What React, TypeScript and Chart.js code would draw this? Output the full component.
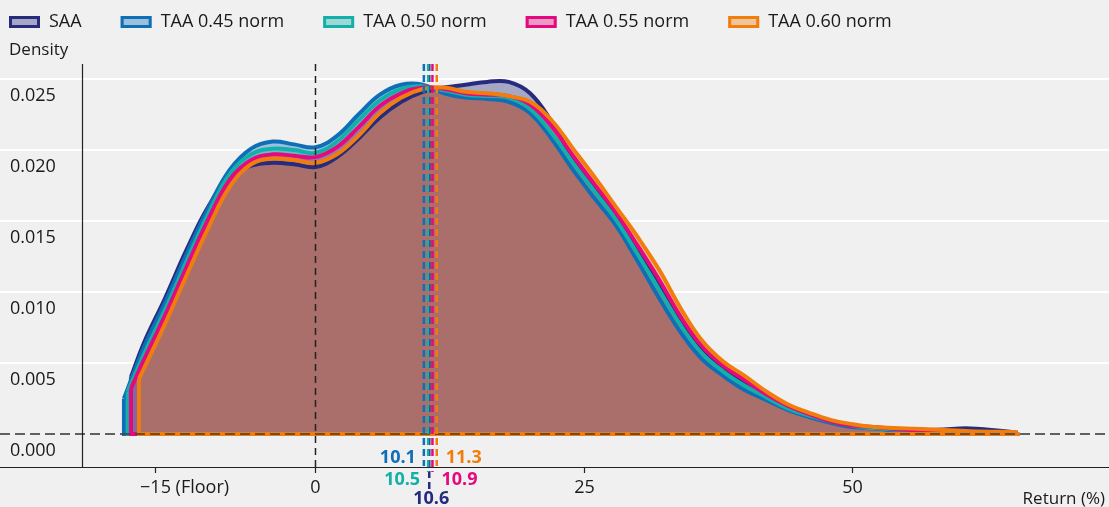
import React, { useEffect, useRef } from "react";
import { Chart, registerables } from "chart.js";
Chart.register(...registerables);

// ---------- data ----------
const SERIES_NAMES = ["SAA", "TAA 0.45 norm", "TAA 0.50 norm", "TAA 0.55 norm", "TAA 0.60 norm"];
const SERIES_COLORS = ["#262b7e", "#0e6fb8", "#12b0a9", "#e5097f", "#f07d0c"];
const MEANS = [10.6, 10.1, 10.5, 10.9, 11.3];
const START_X = [-17.2, -17.85, -17.5, -17.2, -16.45];
const START_Y = [0.004, 0.0025, 0.003, 0.0032, 0.0039];
const GRID_X = [-16, -14, -12, -10, -8, -6, -4, -2, 0, 2, 4, 6, 8, 10, 12, 14, 16, 18, 20, 22, 24, 26, 28, 30, 32, 34, 36, 38, 40, 42, 44, 46, 48, 50, 52, 55, 58, 61, 65.4];
const SAA = [0.0064, 0.0096, 0.013, 0.016, 0.0181, 0.0189, 0.0191, 0.019, 0.0188, 0.0195, 0.0208, 0.0223, 0.0234, 0.0241, 0.0244, 0.0246, 0.0248, 0.0248, 0.024, 0.022, 0.0194, 0.0173, 0.0153, 0.013, 0.0105, 0.008, 0.0059, 0.0046, 0.0036, 0.0027, 0.0019, 0.0013, 0.0009, 0.0006, 0.0004, 0.0003, 0.0003, 0.0004, 0.0001];
const TAA_045 = [0.0061, 0.0093, 0.0127, 0.0159, 0.0186, 0.0201, 0.0206, 0.0204, 0.0202, 0.021, 0.0225, 0.0239, 0.0246, 0.0246, 0.024, 0.0237, 0.0236, 0.0234, 0.0226, 0.0208, 0.0186, 0.0166, 0.0147, 0.0122, 0.0096, 0.0072, 0.0053, 0.0041, 0.0031, 0.0024, 0.0017, 0.0012, 0.0008, 0.0005, 0.0004, 0.0002, 0.00015, 0.0001, 0.0001];
const TAA_050 = [0.0056, 0.0088, 0.0122, 0.0155, 0.0183, 0.0197, 0.0201, 0.02, 0.0198, 0.0206, 0.0221, 0.0235, 0.0243, 0.0245, 0.0242, 0.0239, 0.0238, 0.0237, 0.0229, 0.0212, 0.0191, 0.0171, 0.0151, 0.0127, 0.0102, 0.0077, 0.0057, 0.0044, 0.0034, 0.0026, 0.0018, 0.0013, 0.0009, 0.0006, 0.0004, 0.0003, 0.0002, 0.00015, 0.0001];
const TAA_055 = [0.0052, 0.0084, 0.0118, 0.0151, 0.0179, 0.0193, 0.0197, 0.0196, 0.0195, 0.0202, 0.0216, 0.0231, 0.024, 0.0244, 0.0243, 0.024, 0.0239, 0.0238, 0.0232, 0.0217, 0.0196, 0.0176, 0.0156, 0.0133, 0.0109, 0.0083, 0.0062, 0.0048, 0.0038, 0.0028, 0.002, 0.0014, 0.0009, 0.0006, 0.0005, 0.0003, 0.0002, 0.00015, 0.0001];
const TAA_060 = [0.0046, 0.0078, 0.0112, 0.0145, 0.0174, 0.019, 0.0194, 0.0193, 0.0191, 0.0197, 0.021, 0.0226, 0.0237, 0.0243, 0.0244, 0.0241, 0.024, 0.0238, 0.0234, 0.0221, 0.0201, 0.0181, 0.016, 0.0139, 0.0116, 0.0089, 0.0066, 0.0051, 0.0041, 0.003, 0.0021, 0.0015, 0.001, 0.0007, 0.0005, 0.0004, 0.0003, 0.0002, 0.00015];
const SERIES = [SAA, TAA_045, TAA_050, TAA_055, TAA_060];

const X_TICKS = [-15, 0, 25, 50];
const X_TICK_LABELS = ["\u221215 (Floor)", "0", "25", "50"];
const Y_TICKS = [0, 0.005, 0.01, 0.015, 0.02, 0.025];
const X_MIN = -21.76;
const X_MAX = 73.95;
const Y_MIN = -0.00232;
const Y_MAX = 0.02606;

const FONT = "'Open Sans', 'Noto Sans', sans-serif";
const TEXT = "#1a1a1a";
const FILL_ALPHA = 0.37;

function hexA(hex: string, a: number) {
  const n = parseInt(hex.slice(1), 16);
  return `rgba(${(n >> 16) & 255},${(n >> 8) & 255},${n & 255},${a})`;
}

const overlay = {
  id: "overlay",
  beforeDraw(chart: any) {
    const { ctx, width } = chart;
    const y = chart.scales.y;
    ctx.save();
    ctx.strokeStyle = "#ffffff";
    ctx.lineWidth = 2;
    Y_TICKS.forEach((v) => {
      if (v === 0) return;
      const py = Math.round(y.getPixelForValue(v));
      ctx.beginPath();
      ctx.moveTo(0, py);
      ctx.lineTo(width, py);
      ctx.stroke();
    });
    ctx.restore();
  },
  afterDatasetsDraw(chart: any) {
    const { ctx, width, chartArea } = chart;
    const x = chart.scales.x;
    const y = chart.scales.y;
    const y0 = y.getPixelForValue(0);
    const x0 = x.getPixelForValue(0);
    ctx.save();
    // horizontal dashed zero line
    ctx.setLineDash([10, 5]);
    ctx.strokeStyle = "rgba(70,70,70,0.85)";
    ctx.lineWidth = 2;
    ctx.beginPath();
    ctx.moveTo(0, y0);
    ctx.lineTo(width, y0);
    ctx.stroke();
    // vertical dashed zero line
    ctx.setLineDash([7, 5]);
    ctx.strokeStyle = "#222";
    ctx.lineWidth = 1.5;
    ctx.beginPath();
    ctx.moveTo(x0, chartArea.top);
    ctx.lineTo(x0, chartArea.bottom);
    ctx.stroke();
    ctx.setLineDash([]);
    // axes lines
    ctx.strokeStyle = "#222";
    ctx.lineWidth = 1.2;
    ctx.beginPath();
    ctx.moveTo(0, chartArea.bottom + 0.5);
    ctx.lineTo(width, chartArea.bottom + 0.5);
    ctx.moveTo(chartArea.left + 0.5, chartArea.top);
    ctx.lineTo(chartArea.left + 0.5, chartArea.bottom);
    ctx.stroke();
    // x ticks & labels
    ctx.font = `18px ${FONT}`;
    ctx.fillStyle = TEXT;
    ctx.textBaseline = "middle";
    ctx.textAlign = "left";
    X_TICKS.forEach((v, i) => {
      const px = Math.round(x.getPixelForValue(v)) + 0.5;
      ctx.beginPath();
      ctx.moveTo(px, chartArea.bottom);
      ctx.lineTo(px, chartArea.bottom + 6);
      ctx.stroke();
      const label = X_TICK_LABELS[i];
      const num = label.split(" ")[0];
      const w = ctx.measureText(num).width;
      ctx.fillText(label, px - w / 2, chartArea.bottom + 21);
    });
    // mean lines
    const rowEnd = [466, 472, 490];
    const rowY = [457, 479, 498];
    const rowOf = [2, 0, 1, 1, 0];
    const side = ["center", "left", "left", "right", "right"];
    MEANS.forEach((m, i) => {
      const px = x.getPixelForValue(m);
      ctx.strokeStyle = SERIES_COLORS[i];
      ctx.lineWidth = 2.5;
      ctx.setLineDash([7, 4]);
      ctx.beginPath();
      ctx.moveTo(px, chartArea.top);
      ctx.lineTo(px, rowEnd[rowOf[i]]);
      ctx.stroke();
    });
    ctx.setLineDash([]);
    ctx.font = `bold 18px ${FONT}`;
    MEANS.forEach((m, i) => {
      const px = x.getPixelForValue(m);
      ctx.fillStyle = SERIES_COLORS[i];
      const s = side[i];
      const ty = rowY[rowOf[i]] + 1;
      if (s === "left") {
        ctx.textAlign = "right";
        ctx.fillText(m.toFixed(1), px - 8, ty);
      } else if (s === "right") {
        ctx.textAlign = "left";
        ctx.fillText(m.toFixed(1), px + 9, ty);
      } else {
        ctx.textAlign = "center";
        ctx.fillText(m.toFixed(1), px + 2, ty);
      }
    });
    ctx.restore();
  },
  afterDraw(chart: any) {
    const { ctx } = chart;
    ctx.save();
    // legend
    ctx.font = `18px ${FONT}`;
    ctx.textBaseline = "middle";
    ctx.textAlign = "left";
    let bx = 9;
    SERIES_NAMES.forEach((name, i) => {
      ctx.fillStyle = hexA(SERIES_COLORS[i], FILL_ALPHA);
      ctx.fillRect(bx, 16, 31, 12);
      ctx.strokeStyle = SERIES_COLORS[i];
      ctx.lineWidth = 3;
      ctx.strokeRect(bx + 1.5, 16 + 1.5, 28, 9);
      ctx.fillStyle = TEXT;
      ctx.fillText(name, bx + 40, 22);
      bx += 40 + ctx.measureText(name).width + 39;
    });
    // axis titles
    ctx.font = `17px ${FONT}`;
    ctx.fillText("Density", 9, 50);
    ctx.textAlign = "right";
    ctx.fillText("Return (%)", 1105, 499);
    ctx.restore();
  },
};

export default function App() {
  const ref = useRef<HTMLCanvasElement>(null);
  useEffect(() => {
    const canvas = ref.current;
    if (!canvas) return;
    const datasets: any[] = [];
    SERIES_NAMES.forEach((name, i) => {
      const pts = [{ x: START_X[i], y: START_Y[i] }, ...GRID_X.map((gx, j) => ({ x: gx, y: SERIES[i][j] }))];
      const last = pts[pts.length - 1];
      const color = SERIES_COLORS[i];
      datasets.push({
        label: name,
        data: pts,
        borderColor: color,
        backgroundColor: hexA(color, FILL_ALPHA),
        fill: "origin",
        tension: 0.4,
        borderWidth: 4,
        pointRadius: 0,
        order: 20 - i * 2,
      });
      datasets.push({
        label: name + " outline",
        data: [pts[0], { x: pts[0].x, y: 0 }, { x: last.x, y: 0 }, last],
        borderColor: color,
        backgroundColor: "transparent",
        fill: false,
        tension: 0,
        borderWidth: 4,
        pointRadius: 0,
        order: 19 - i * 2,
      });
    });
    const chart = new Chart(canvas, {
      type: "line",
      data: { datasets },
      options: {
        animation: false,
        responsive: false,
        devicePixelRatio: 1,
        events: [],
        layout: { padding: { top: 64, left: 10, right: 0, bottom: 0 } },
        plugins: {
          legend: { display: false },
          tooltip: { enabled: false },
          filler: { drawTime: "beforeDatasetsDraw" },
        },
        scales: {
          x: {
            type: "linear",
            min: X_MIN,
            max: X_MAX,
            grid: { display: false },
            border: { display: false },
            ticks: { display: false },
            afterBuildTicks: (s: any) => {
              s.ticks = X_TICKS.map((v) => ({ value: v }));
            },
            afterFit: (s: any) => {
              s.height = 40;
            },
          },
          y: {
            type: "linear",
            min: Y_MIN,
            max: Y_MAX,
            grid: { display: false },
            border: { display: false },
            ticks: {
              crossAlign: "far",
              labelOffset: 17,
              color: TEXT,
              font: { family: FONT, size: 18 },
              callback: (v: any) => Number(v).toFixed(3),
            },
            afterBuildTicks: (s: any) => {
              s.ticks = Y_TICKS.map((v) => ({ value: v }));
            },
            afterFit: (s: any) => {
              s.width = 72;
            },
          },
        },
      } as any,
      plugins: [overlay],
    });
    return () => chart.destroy();
  }, []);
  return (
    <div style={{ position: "fixed", left: 0, top: 0, width: 1109, height: 507, background: "#f0f0f0" }}>
      <canvas ref={ref} width={1109} height={507} style={{ display: "block" }} />
    </div>
  );
}
